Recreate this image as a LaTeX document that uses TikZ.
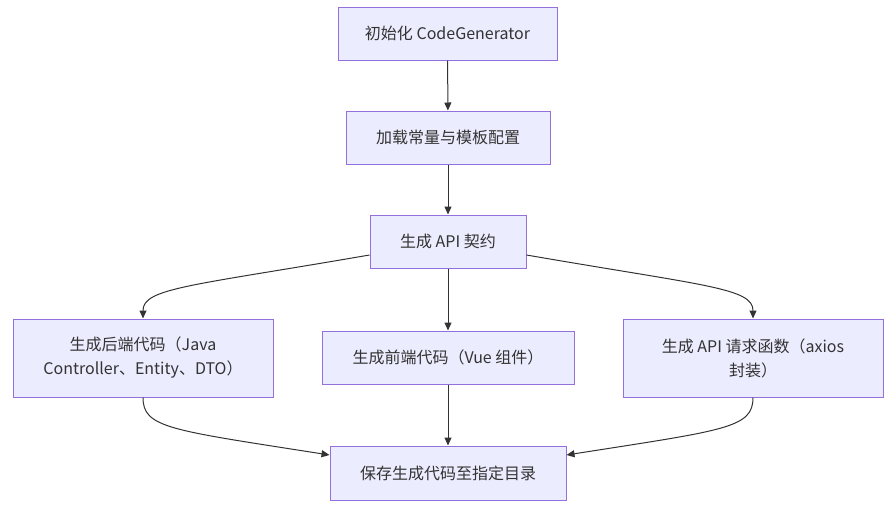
\documentclass[tikz,border=0pt]{standalone}
\usepackage{fontspec}
\setmainfont{Noto Sans CJK SC}
\usetikzlibrary{arrows.meta,positioning}
\definecolor{caixafundo}{HTML}{ECECFF}
\definecolor{caixaborda}{HTML}{9370DB}
\definecolor{linha}{HTML}{333333}
\begin{document}
\begin{tikzpicture}[x=1pt, y=-1pt,
caixa/.style={draw=caixaborda, fill=caixafundo, line width=1pt, align=center, minimum height=53pt, inner sep=0pt, text=linha, font=\fontsize{16}{24}\selectfont},
seta/.style={-{Triangle[length=8pt,width=7pt]}, draw=linha, line width=1pt}
]
\useasboundingbox (0,0) rectangle (896,512);
\node[caixa, minimum width=219pt] (init) at (447.5,33.5) {初始化 CodeGenerator};
\node[caixa, minimum width=204pt] (config) at (448,137.5) {加载常量与模板配置};
\node[caixa, minimum width=156pt] (contrato) at (448,241.5) {生成 API 契约};

\node[caixa, minimum width=260pt, minimum height=78pt] (backend) at (143,358) {生成后端代码（Java\\Controller、Entity、DTO）};
\node[caixa, minimum width=252pt] (frontend) at (448,357.5) {生成前端代码（Vue 组件）};
\node[caixa, minimum width=260pt, minimum height=78pt] (api) at (753,358) {生成 API 请求函数（axios\\封装）};

\node[caixa, minimum width=236pt, minimum height=54pt] (salvar) at (448,473) {保存生成代码至指定目录};

\draw[seta] (init) -- (config);
\draw[seta] (config) -- (contrato);
\draw[seta] (contrato) -- (frontend);
\draw[seta] ([yshift=-13.5pt]contrato.west) .. controls (190,286) and (143,288) .. (backend.north);
\draw[seta] ([yshift=-13.5pt]contrato.east) .. controls (706,286) and (753,288) .. (api.north);

\draw[seta] (frontend) -- (salvar);
\draw[seta] (backend.south) .. controls (143,428) and (170,430) .. ([yshift=18pt]salvar.west);
\draw[seta] (api.south) .. controls (753,428) and (726,430) .. ([yshift=18pt]salvar.east);
\end{tikzpicture}
\end{document}
